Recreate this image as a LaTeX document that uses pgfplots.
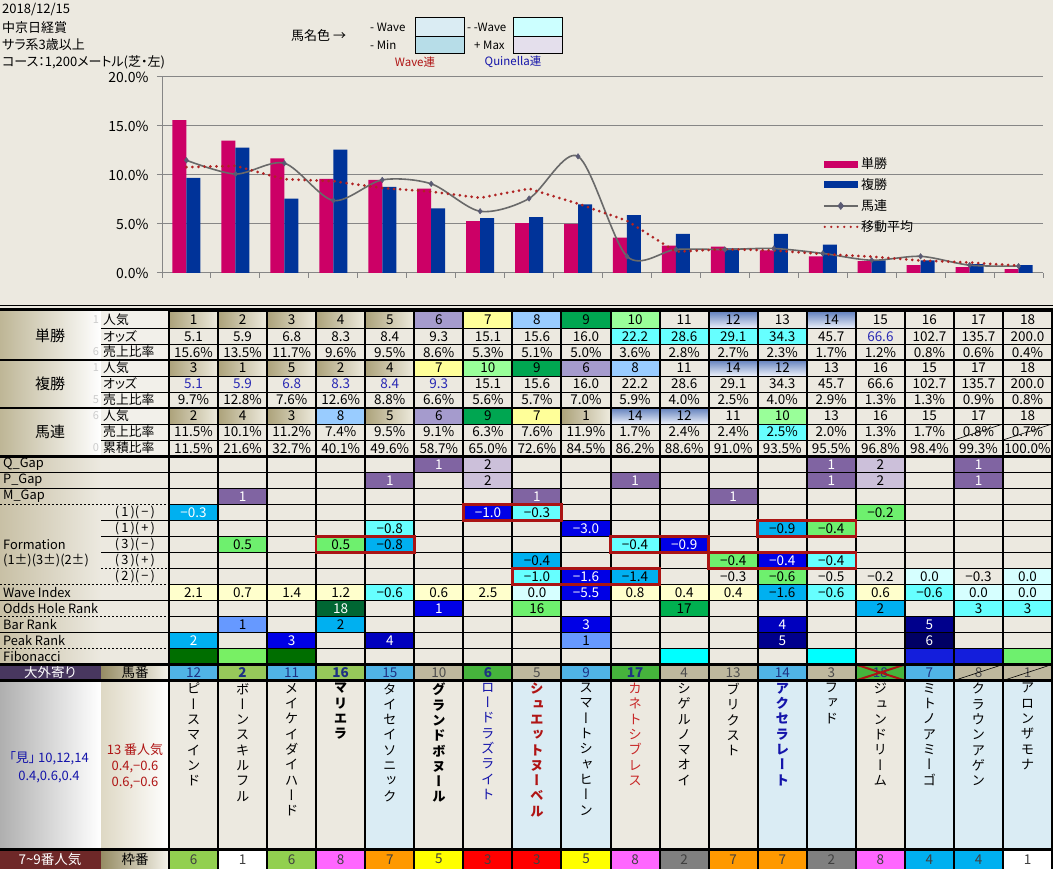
\documentclass[border=0pt]{standalone}
\usepackage{pgfplots}
\pgfplotsset{compat=1.18}
\usepackage{fontspec}
\setmainfont[RawFeature={+palt}]{Noto Sans CJK JP}
\newfontfamily\jpv[RawFeature={+vert}]{Noto Sans CJK JP}

\definecolor{bgc}{RGB}{236,233,224}
\definecolor{pinkc}{RGB}{204,0,102}
\definecolor{bluec}{RGB}{0,51,153}
\definecolor{graylc}{RGB}{105,105,105}
\definecolor{markc}{RGB}{90,90,115}
\definecolor{mavgc}{RGB}{175,35,35}
\definecolor{gridc}{RGB}{134,134,134}
\definecolor{tanD}{RGB}{172,162,122}
\definecolor{tanL}{RGB}{238,235,222}
\definecolor{lavc}{RGB}{165,155,205}
\definecolor{yelc}{RGB}{255,255,153}
\definecolor{lblc}{RGB}{153,204,255}
\definecolor{grnc}{RGB}{0,166,81}
\definecolor{lgrc}{RGB}{153,255,153}
\definecolor{bgrT}{RGB}{100,130,190}
\definecolor{bgrB}{RGB}{238,242,250}
\definecolor{cyac}{RGB}{102,255,255}
\definecolor{purc}{RGB}{128,100,162}
\definecolor{llavc}{RGB}{204,192,218}
\definecolor{mbluc}{RGB}{0,176,240}
\definecolor{bluf}{RGB}{0,0,230}
\definecolor{lcyac}{RGB}{214,255,255}
\definecolor{lyelc}{RGB}{255,255,204}
\definecolor{dkgc}{RGB}{0,102,51}
\definecolor{grn2c}{RGB}{0,176,80}
\definecolor{lgr2c}{RGB}{110,240,110}
\definecolor{cflc}{RGB}{102,153,255}
\definecolor{dbluc}{RGB}{0,0,190}
\definecolor{navyc}{RGB}{0,0,140}
\definecolor{navy2c}{RGB}{0,0,100}
\definecolor{fdgc}{RGB}{0,110,0}
\definecolor{flgc}{RGB}{120,240,100}
\definecolor{cy2c}{RGB}{0,255,255}
\definecolor{fbluc}{RGB}{20,30,220}
\definecolor{redbc}{RGB}{170,20,20}
\definecolor{skyc}{RGB}{80,180,230}
\definecolor{olvc}{RGB}{150,200,90}
\definecolor{tanpc}{RGB}{190,184,158}
\definecolor{grn3c}{RGB}{70,180,60}
\definecolor{nmblue}{RGB}{218,236,244}
\definecolor{w6}{RGB}{146,208,80}
\definecolor{w8}{RGB}{255,102,255}
\definecolor{w7}{RGB}{255,153,0}
\definecolor{w5}{RGB}{255,255,0}
\definecolor{w3}{RGB}{255,0,0}
\definecolor{w2}{RGB}{128,128,128}
\definecolor{w4}{RGB}{0,176,240}
\definecolor{lblD}{RGB}{190,182,150}
\definecolor{lblD2}{RGB}{200,192,165}
\definecolor{subc}{RGB}{242,240,234}
\definecolor{navyt}{RGB}{30,50,130}
\definecolor{oddb}{RGB}{40,40,180}
\definecolor{txtb}{RGB}{20,20,170}
\definecolor{txtr}{RGB}{175,20,20}
\definecolor{txtr2}{RGB}{200,40,40}
\definecolor{box1}{RGB}{218,236,243}
\definecolor{box2}{RGB}{183,221,232}
\definecolor{box3}{RGB}{204,255,255}
\definecolor{box4}{RGB}{228,223,236}
\definecolor{purL}{RGB}{72,55,95}
\definecolor{redL}{RGB}{110,40,40}
\definecolor{tanS}{RGB}{150,140,100}
\definecolor{tanW}{RGB}{245,243,235}
\definecolor{grayS}{RGB}{175,175,175}
\definecolor{tanN}{RGB}{222,216,196}

\tikzset{tanc/.style={left color=tanD, right color=tanL},
  lav/.style={fill=lavc}, yel/.style={fill=yelc}, lbl/.style={fill=lblc},
  grn/.style={fill=grnc}, lgr/.style={fill=lgrc},
  bgr/.style={top color=bgrT, bottom color=bgrB}, nof/.style={}}

\def\RY{{311.5,328.5,344.5,360,376,392,408,424,440,456.5,472.5,488.5,504.5,520.5,536.5,552.5,568.5,584.5,600.5,616.5,632.5,648.5,664.5,680.5,849.5,869}}
\def\tf{\fontsize{13.5}{13.5}\selectfont}
\def\lf{\fontsize{12.8}{13}\selectfont}
\newcommand\cellxy[2]{\pgfmathsetmacro\cYt{\RY[#2]}\pgfmathtruncatemacro\cnr{#2+1}\pgfmathsetmacro\cYb{\RY[\cnr]}\pgfmathsetmacro\cXl{169+49.06*(#1-1)}\pgfmathsetmacro\cXr{\cXl+49.06}}
\newcommand\fc[3]{\cellxy{#1}{#2}\path[#3] (\cXl,\cYt) rectangle (\cXr,\cYb);}
\newcommand\tx[4]{\cellxy{#1}{#2}\node[inner sep=0pt,font=\tf,#3] at ({(\cXl+\cXr)/2},{(\cYt+\cYb)/2}) {#4};}
\newcommand\ct[5]{\fc{#1}{#2}{#3}\tx{#1}{#2}{#4}{#5}}
\newcommand\rbox[3]{\pgfmathsetmacro\rYt{\RY[#3]}\pgfmathtruncatemacro\rnr{#3+1}\pgfmathsetmacro\rYb{\RY[\rnr]}\pgfmathsetmacro\rXl{169+49.06*(#1-1)}\pgfmathsetmacro\rXr{169+49.06*#2}\draw[redbc, line width=2.5pt] (\rXl,\rYt) rectangle (\rXr,\rYb);}
\newcommand\diag[2]{\cellxy{#1}{#2}\draw[line width=0.6pt] (\cXl,\cYb) -- (\cXr,\cYt);}
\newcommand\popstyle[1]{\ifcase#1 nof\or tanc\or tanc\or tanc\or tanc\or tanc\or lav\or yel\or lbl\or grn\or lgr\or nof\or bgr\or nof\or bgr\else nof\fi}
\def\vst#1{\vbox{\baselineskip=15.3pt\lineskip=0pt\lineskiplimit=-100pt\vstaux#1\vstend}}
\def\vstaux#1#2\vstend{\hbox to 16pt{\hss#1\hss}\ifx\relax#2\relax\else\vstaux#2\vstend\fi}
\newcommand\nm[3]{\pgfmathsetmacro\cXc{169+49.06*(#1-0.5)}\node[anchor=north, inner sep=0pt, font=\jpv\fontsize{13.5}{15}\selectfont, #2] at (\cXc,683) {\vst{#3}};}

\begin{document}
\begin{tikzpicture}
\begin{scope}[x=1pt,y=-1pt]
\fill[bgc] (0,0) rectangle (1053,869);
% header texts
\begin{scope}[every node/.style={anchor=west,inner sep=0pt,font=\fontsize{13}{13}\selectfont}]
\node at (2,10) {2018/12/15};
\node at (2,28) {中京日経賞};
\node at (2,45) {サラ系3歳以上};
\node at (2,62) {コース：1,200メートル(芝・左)};
\node[font=\fontsize{13}{13}\selectfont] at (291,36) {馬名色 →};
\node[font=\fontsize{11.5}{11}\selectfont] at (370,27) {- Wave};
\node[font=\fontsize{11.5}{11}\selectfont] at (370,45) {- Min};
\node[font=\fontsize{11.5}{11}\selectfont] at (467,27) {- -Wave};
\node[font=\fontsize{11.5}{11}\selectfont] at (474,45) {+ Max};
\end{scope}
\filldraw[fill=box1, draw=black, line width=0.8pt] (415.5,17.5) rectangle (464,36);
\filldraw[fill=box2, draw=black, line width=0.8pt] (415.5,36) rectangle (464,53.5);
\filldraw[fill=box3, draw=black, line width=0.8pt] (513.5,17.5) rectangle (562,36);
\filldraw[fill=box4, draw=black, line width=0.8pt] (513.5,36) rectangle (562,53.5);
\node[inner sep=0pt, text=txtr, font=\fontsize{11.5}{11}\selectfont] at (415,62) {Wave連};
\node[inner sep=0pt, text=txtb, font=\fontsize{11.5}{11}\selectfont] at (513,62) {Quinella連};

% top separator
\draw[line width=1pt] (0,305.5) -- (1053,305.5);
\draw[line width=3pt] (0,309.5) -- (1053,309.5);

% label area top groups
\shade[left color=lblD, right color=white] (0,311.5) rectangle (101,456.5);
\fill[subc] (101,311.5) rectangle (169,456.5);
\node[font=\fontsize{15}{15}\selectfont] at (50,336) {単勝};
\node[font=\fontsize{15}{15}\selectfont] at (50,384) {複勝};
\node[font=\fontsize{15}{15}\selectfont] at (50,432) {馬連};
\begin{scope}[every node/.style={anchor=west,inner sep=0pt,font=\lf}]
\node at (103,320) {人気}; \node at (103,336.5) {オッズ}; \node at (103,352) {売上比率};
\node at (103,368) {人気}; \node at (103,384) {オッズ}; \node at (103,400) {売上比率};
\node at (103,416) {人気}; \node at (103,432) {売上比率}; \node at (103,448) {累積比率};
\end{scope}
\begin{scope}[every node/.style={inner sep=0pt,font=\fontsize{11}{11}\selectfont,text=black!20}]
\node at (96,320) {1}; \node at (96,352) {6}; \node at (96,368) {1};
\node at (96,400) {5}; \node at (96,416) {6}; \node at (96,448) {0};
\end{scope}
\foreach \yy in {328.5,344.5,376,392,424,440} {\draw[line width=0.8pt] (101,\yy) -- (169,\yy);}

% label area lower
\shade[left color=lblD2, right color=bgc] (0,456.5) rectangle (101,664.5);
\begin{scope}[every node/.style={anchor=west,inner sep=0pt,font=\lf}]
\node at (3,464.5) {Q\_Gap}; \node at (3,480.5) {P\_Gap}; \node at (3,496.5) {M\_Gap};
\node at (3,544.5) {Formation}; \node at (3,560.5) {(1±)(3±)(2±)};
\node at (3,592.5) {Wave Index}; \node at (3,608.5) {Odds Hole Rank};
\node at (3,624.5) {Bar Rank}; \node at (3,640.5) {Peak Rank}; \node at (3,656.5) {Fibonacci};
\end{scope}
\begin{scope}[every node/.style={inner sep=0pt,font=\lf}]
\node at (135,512.5) {(\,1\,)(\,−\,)}; \node at (135,528.5) {(\,1\,)(\,+\,)};
\node at (135,544.5) {(\,3\,)(\,−\,)}; \node at (135,560.5) {(\,3\,)(\,+\,)};
\node at (135,576.5) {(\,2\,)(\,−\,)};
\end{scope}
\foreach \yy in {472.5,488.5,600.5,632.5} {\draw[line width=0.8pt] (0,\yy) -- (169,\yy);}
\foreach \yy in {504.5,584.5,616.5,648.5} {\draw[line width=0.8pt, dash pattern=on 2pt off 2pt] (0,\yy) -- (169,\yy);}
\foreach \yy in {520.5,536.5,552.5} {\draw[line width=0.8pt] (101,\yy) -- (169,\yy);}
\draw[line width=0.8pt, dash pattern=on 2pt off 2pt] (101,568.5) -- (169,568.5);

% bottom label cells
\fill[purL] (0,664.5) rectangle (101,680.5);
\shade[left color=tanS, right color=tanW] (101,664.5) rectangle (169,680.5);
\node[text=white, font=\fontsize{13.5}{13}\selectfont] at (50,672.5) {大外寄り};
\node[font=\fontsize{13.5}{13}\selectfont] at (135,672.5) {馬番};
\shade[left color=grayS, right color=white] (0,680.5) rectangle (101,849.5);
\shade[left color=tanN, right color=white] (101,680.5) rectangle (169,849.5);
\node[text=txtb, font=\fontsize{13}{13}\selectfont] at (49,758) {「見」 10,12,14};
\node[text=txtb, font=\fontsize{13}{13}\selectfont] at (49,777) {0.4,0.6,0.4};
\node[text=txtr, font=\fontsize{13}{13}\selectfont] at (135,750) {13 番人気};
\node[text=txtr, font=\fontsize{13}{13}\selectfont] at (135,767) {0.4,−0.6};
\node[text=txtr, font=\fontsize{13}{13}\selectfont] at (135,783) {0.6,−0.6};
\fill[redL] (0,849.5) rectangle (101,869);
\shade[left color=tanS, right color=tanW] (101,849.5) rectangle (169,869);
\node[text=white, font=\fontsize{13.5}{13}\selectfont] at (50,859) {7\textasciitilde9番人気};
\node[font=\fontsize{13.5}{13}\selectfont] at (135,859) {枠番};

% ===== data cells =====
\foreach \v [count=\i] in {1,...,18} {\edef\tmp{\noexpand\fc{\i}{0}{\popstyle{\v}}\noexpand\tx{\i}{0}{}{\v}}\tmp}
\foreach \c in {10,...,13} {\fc{\c}{1}{fill=cyac}}
\foreach \v [count=\i] in {5.1,5.9,6.8,8.3,8.4,9.3,15.1,15.6,16.0,22.2,28.6,29.1,34.3,45.7,66.6,102.7,135.7,200.0} {\ifnum\i=15 \tx{\i}{1}{text=oddb}{\v}\else\tx{\i}{1}{}{\v}\fi}
\foreach \v [count=\i] in {15.6,13.5,11.7,9.6,9.5,8.6,5.3,5.1,5.0,3.6,2.8,2.7,2.3,1.7,1.2,0.8,0.6,0.4} {\tx{\i}{2}{}{\v\%}}
\foreach \v [count=\i] in {3,1,5,2,4,7,10,9,6,8,11,14,12,13,16,15,17,18} {\edef\tmp{\noexpand\fc{\i}{3}{\popstyle{\v}}\noexpand\tx{\i}{3}{}{\v}}\tmp}
\foreach \v [count=\i] in {5.1,5.9,6.8,8.3,8.4,9.3,15.1,15.6,16.0,22.2,28.6,29.1,34.3,45.7,66.6,102.7,135.7,200.0} {\ifnum\i<7 \tx{\i}{4}{text=oddb}{\v}\else\tx{\i}{4}{}{\v}\fi}
\foreach \v [count=\i] in {9.7,12.8,7.6,12.6,8.8,6.6,5.6,5.7,7.0,5.9,4.0,2.5,4.0,2.9,1.3,1.3,0.9,0.8} {\tx{\i}{5}{}{\v\%}}
\foreach \v [count=\i] in {2,4,3,8,5,6,9,7,1,14,12,11,10,13,16,15,17,18} {\edef\tmp{\noexpand\fc{\i}{6}{\popstyle{\v}}\noexpand\tx{\i}{6}{}{\v}}\tmp}
\fc{13}{7}{fill=cyac}
\foreach \v [count=\i] in {11.5,10.1,11.2,7.4,9.5,9.1,6.3,7.6,11.9,1.7,2.4,2.4,2.5,2.0,1.3,1.7,0.8,0.7} {\tx{\i}{7}{}{\v\%}}
\diag{17}{7}\diag{18}{7}
\foreach \v [count=\i] in {11.5,21.6,32.7,40.1,49.6,58.7,65.0,72.6,84.5,86.2,88.6,91.0,93.5,95.5,96.8,98.4,99.3,100.0} {\tx{\i}{8}{}{\v\%}}
% gaps
\ct{6}{9}{fill=purc}{text=white}{1}\ct{7}{9}{fill=llavc}{}{2}\ct{14}{9}{fill=purc}{text=white}{1}\ct{15}{9}{fill=llavc}{}{2}\ct{17}{9}{fill=purc}{text=white}{1}
\ct{5}{10}{fill=purc}{text=white}{1}\ct{7}{10}{fill=llavc}{}{2}\ct{10}{10}{fill=purc}{text=white}{1}\ct{14}{10}{fill=purc}{text=white}{1}\ct{15}{10}{fill=llavc}{}{2}\ct{17}{10}{fill=purc}{text=white}{1}
\ct{2}{11}{fill=purc}{text=white}{1}\ct{8}{11}{fill=purc}{text=white}{1}\ct{12}{11}{fill=purc}{text=white}{1}
% formation
\ct{1}{12}{fill=mbluc}{text=white}{−0.3}\ct{7}{12}{fill=bluf}{text=white}{−1.0}\ct{8}{12}{fill=cyac}{}{−0.3}\ct{15}{12}{fill=lgr2c}{}{−0.2}
\ct{5}{13}{fill=cyac}{}{−0.8}\ct{9}{13}{fill=bluf}{text=white}{−3.0}\ct{13}{13}{fill=mbluc}{}{−0.9}\ct{14}{13}{fill=lgr2c}{}{−0.4}
\ct{2}{14}{fill=lgr2c}{}{0.5}\ct{4}{14}{fill=lgr2c}{}{0.5}\ct{5}{14}{fill=mbluc}{}{−0.8}\ct{10}{14}{fill=cyac}{}{−0.4}\ct{11}{14}{fill=bluf}{text=white}{−0.9}
\ct{8}{15}{fill=mbluc}{}{−0.4}\ct{12}{15}{fill=lgr2c}{}{−0.4}\ct{13}{15}{fill=bluf}{text=white}{−0.4}\ct{14}{15}{fill=cyac}{}{−0.4}
\ct{8}{16}{fill=cyac}{}{−1.0}\ct{9}{16}{fill=bluf}{text=white}{−1.6}\ct{10}{16}{fill=mbluc}{}{−1.4}\tx{12}{16}{}{−0.3}\ct{13}{16}{fill=lgr2c}{}{−0.6}\tx{14}{16}{}{−0.5}\tx{15}{16}{}{−0.2}\ct{16}{16}{fill=lcyac}{}{0.0}\tx{17}{16}{}{−0.3}\ct{18}{16}{fill=lcyac}{}{0.0}
% wave index
\foreach \v/\f/\t [count=\i] in {2.1/lyelc/black,0.7/lyelc/black,1.4/lyelc/black,1.2/lyelc/black,−0.6/cyac/black,0.6/lyelc/black,2.5/lyelc/black,0.0/lcyac/black,−5.5/bluf/white,0.8/lyelc/black,0.4/lyelc/black,0.4/lyelc/black,−1.6/mbluc/black,−0.6/cyac/black,0.6/lyelc/black,−0.6/cyac/black,0.0/lcyac/black,0.0/lcyac/black} {\edef\tmp{\noexpand\ct{\i}{17}{fill=\f}{text=\t}{\v}}\tmp}
% odds hole
\ct{4}{18}{fill=dkgc}{text=white}{18}\ct{6}{18}{fill=bluf}{text=white}{1}\ct{8}{18}{fill=lgr2c}{}{16}\ct{11}{18}{fill=grn2c}{}{17}\ct{15}{18}{fill=mbluc}{}{2}\ct{17}{18}{fill=cyac}{}{3}\ct{18}{18}{fill=cyac}{}{3}
% bar rank
\ct{2}{19}{fill=cflc}{}{1}\ct{4}{19}{fill=mbluc}{}{2}\ct{9}{19}{fill=bluf}{text=white}{3}\ct{13}{19}{fill=dbluc}{text=white}{4}\ct{16}{19}{fill=navyc}{text=white}{5}
% peak rank
\ct{1}{20}{fill=mbluc}{text=white}{2}\ct{3}{20}{fill=bluf}{text=white}{3}\ct{5}{20}{fill=dbluc}{text=white}{4}\ct{9}{20}{fill=cflc}{}{1}\ct{13}{20}{fill=navyc}{text=white}{5}\ct{16}{20}{fill=navy2c}{text=white}{6}
% fibonacci
\fc{1}{21}{fill=fdgc}\fc{2}{21}{fill=flgc}\fc{3}{21}{fill=fdgc}\fc{11}{21}{fill=cy2c}\fc{14}{21}{fill=cy2c}\fc{16}{21}{fill=fbluc}\fc{17}{21}{fill=fbluc}\fc{18}{21}{fill=lgr2c}
% 馬番
\ct{1}{22}{fill=skyc}{text=navyt}{12}\ct{2}{22}{fill=olvc}{text=navyt,font=\tf\bfseries}{2}\ct{3}{22}{fill=skyc}{text=navyt}{11}\ct{4}{22}{fill=olvc}{text=navyt,font=\tf\bfseries}{16}\ct{5}{22}{fill=skyc}{text=navyt}{15}\ct{6}{22}{fill=tanpc}{text=black!70}{10}\ct{7}{22}{fill=grn3c}{text=navyt,font=\tf\bfseries}{6}\ct{8}{22}{fill=tanpc}{text=black!70}{5}\ct{9}{22}{fill=skyc}{text=navyt}{9}\ct{10}{22}{fill=grn3c}{text=navyt,font=\tf\bfseries}{17}\ct{11}{22}{fill=tanpc}{text=black!70}{4}\ct{12}{22}{fill=tanpc}{text=black!70}{13}\ct{13}{22}{fill=skyc}{text=navyt}{14}\ct{14}{22}{fill=tanpc}{text=black!70}{3}\ct{15}{22}{fill=grn3c}{text=navyt}{18}\ct{16}{22}{fill=skyc}{text=navyt}{7}\ct{17}{22}{fill=tanpc}{text=black!70}{8}\ct{18}{22}{fill=tanpc}{text=black!70}{1}
\cellxy{15}{22}\draw[redbc,line width=2pt] (\cXl,\cYt) -- (\cXr,\cYb) (\cXl,\cYb) -- (\cXr,\cYt);
\diag{17}{22}\diag{18}{22}
% names
\foreach \c in {5,8,9,13,14,16,17,18} {\fc{\c}{23}{fill=nmblue}}
\nm{1}{}{ピースマインド}
\nm{2}{}{ボーンスキルフル}
\nm{3}{}{メイケイダイハード}
\nm{4}{font=\jpv\bfseries\fontsize{13.5}{15}\selectfont}{マリエラ}
\nm{5}{}{タイセイソニック}
\nm{6}{font=\jpv\bfseries\fontsize{13.5}{15}\selectfont}{グランドボヌール}
\nm{7}{text=txtb}{ロードラズライト}
\nm{8}{text=txtr,font=\jpv\bfseries\fontsize{13.5}{15}\selectfont}{シュエットヌーベル}
\nm{9}{}{スマートシャヒーン}
\nm{10}{text=txtr2}{カネトシブレス}
\nm{11}{}{シゲルノマオイ}
\nm{12}{}{ブリクスト}
\nm{13}{text=txtb,font=\jpv\bfseries\fontsize{13.5}{15}\selectfont}{アクセラレート}
\nm{14}{}{ファド}
\nm{15}{}{ジュンドリーム}
\nm{16}{}{ミトノアミーゴ}
\nm{17}{}{クラウンアゲン}
\nm{18}{}{アロンザモナ}
% 枠番
\foreach \v/\f [count=\i] in {6/w6,1/white,6/w6,8/w8,7/w7,5/w5,3/w3,3/w3,5/w5,8/w8,2/w2,7/w7,7/w7,2/w2,8/w8,4/w4,4/w4,1/white} {\edef\tmp{\noexpand\ct{\i}{24}{fill=\f}{text=black!75}{\v}}\tmp}

% grid lines
\foreach \r in {0,...,25} {\pgfmathsetmacro\yy{\RY[\r]}\draw[line width=0.8pt] (169,\yy) -- (1052,\yy);}
\foreach \k in {0,...,18} {\pgfmathsetmacro\xx{169+49.06*\k}\draw[line width=2pt] (\xx,311.5) -- (\xx,869);}
\foreach \yy in {360,408,456.5,664.5,680.5,849.5} {\draw[line width=2.5pt] (0,\yy) -- (1052,\yy);}
\rbox{7}{8}{12}\rbox{13}{14}{13}\rbox{4}{5}{14}\rbox{10}{11}{14}\rbox{12}{14}{15}\rbox{8}{10}{16}
\end{scope}

\begin{axis}[
  at={(162pt,-273pt)}, anchor=south west,
  scale only axis, width=881pt, height=196pt,
  xmin=0.5, xmax=18.5, ymin=0, ymax=20,
  axis x line*=bottom, axis y line*=left,
  axis line style={draw=gridc, line width=1pt, -},
  xtick={0.5,1.5,...,18.5}, xticklabels={},
  ytick={0,5,10,15,20},
  yticklabels={0.0\%,5.0\%,10.0\%,15.0\%,20.0\%},
  yticklabel style={font=\fontsize{14}{14}\selectfont, text=black, xshift=-5pt},
  ymajorgrids, grid style={draw=gridc, line width=1pt},
  tick style={draw=gridc, line width=1pt},
  major tick length=5pt, tick align=outside,
  legend style={at={(0.750,0.599)}, anchor=north west, draw=none, fill=none,
    font=\fontsize{13}{13}\selectfont, inner sep=0pt, row sep=4.5pt, column sep=0pt},
  legend cell align=left,
]
\addplot[ybar, bar width=14pt, bar shift=-7pt, fill=pinkc, draw=none,
  legend image code/.code={\fill[pinkc] (0pt,-3.5pt) rectangle (34pt,3.5pt);}]
  coordinates {(1,15.6) (2,13.5) (3,11.7) (4,9.6) (5,9.5) (6,8.6) (7,5.3) (8,5.1) (9,5.0) (10,3.6) (11,2.8) (12,2.7) (13,2.3) (14,1.7) (15,1.2) (16,0.8) (17,0.6) (18,0.4)};
\addlegendentry{単勝}
\addplot[ybar, bar width=14pt, bar shift=7pt, fill=bluec, draw=none,
  legend image code/.code={\fill[bluec] (0pt,-3.5pt) rectangle (34pt,3.5pt);}]
  coordinates {(1,9.7) (2,12.8) (3,7.6) (4,12.6) (5,8.8) (6,6.6) (7,5.6) (8,5.7) (9,7.0) (10,5.9) (11,4.0) (12,2.5) (13,4.0) (14,2.9) (15,1.3) (16,1.3) (17,0.9) (18,0.8)};
\addlegendentry{複勝}
\addplot[graylc, line width=1.6pt, smooth, mark=diamond*, mark size=2.8pt,
  mark options={fill=markc, draw=markc, line width=0.4pt, solid},
  legend image code/.code={\draw[graylc, line width=1.6pt] (0pt,0pt) -- (34pt,0pt); \fill[markc] (17pt,2.8pt) -- (19.3pt,0pt) -- (17pt,-2.8pt) -- (14.7pt,0pt) -- cycle;}]
  coordinates {(1,11.5) (2,10.1) (3,11.2) (4,7.4) (5,9.5) (6,9.1) (7,6.3) (8,7.6) (9,11.9) (10,1.7) (11,2.4) (12,2.4) (13,2.5) (14,2.0) (15,1.3) (16,1.7) (17,0.8) (18,0.7)};
\addlegendentry{馬連}
\addplot[mavgc, line width=3pt, line cap=round, dash pattern=on 0pt off 6pt,
  legend image code/.code={\draw[mavgc, line width=2.5pt, line cap=round, dash pattern=on 0pt off 6.5pt] (1pt,0pt) -- (34pt,0pt);}]
  coordinates {(1,10.8) (2,10.93) (3,9.57) (4,9.37) (5,8.67) (6,8.3) (7,7.67) (8,8.6) (9,7.07) (10,5.33) (11,2.17) (12,2.43) (13,2.3) (14,1.93) (15,1.67) (16,1.27) (17,1.07) (18,0.75)};
\addlegendentry{移動平均}
\end{axis}
\pgfresetboundingbox
\path[use as bounding box] (0pt,0pt) rectangle (1053pt,-869pt);
\end{tikzpicture}
\end{document}
